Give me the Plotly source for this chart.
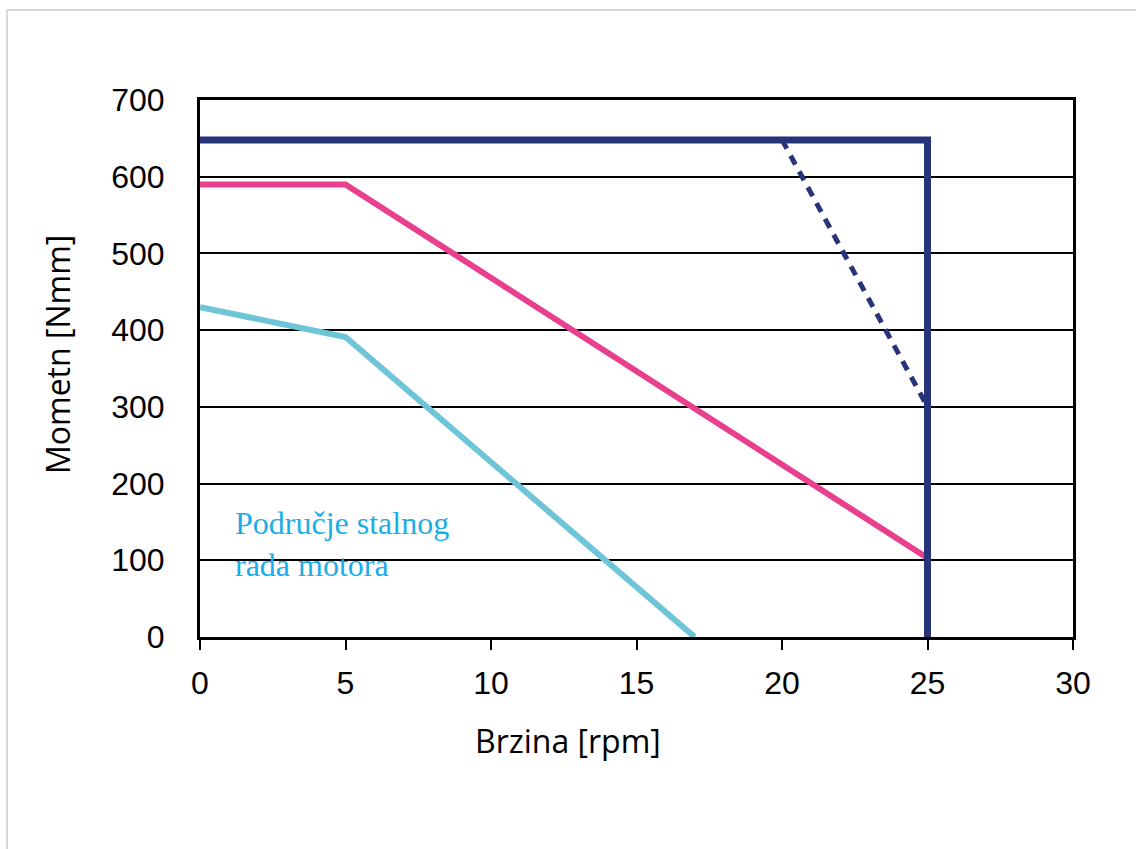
import plotly.graph_objects as go

# brzina [rpm] i moment [Nmm]
granica_x = [0, 25, 25]
granica_y = [648, 648, 0]

isprekidana_x = [20, 25]
isprekidana_y = [648, 300]

roza_x = [0, 5, 25]
roza_y = [590, 590, 103]

plava_x = [0, 5, 17]
plava_y = [430, 391, 0]

x_tickovi = [0, 5, 10, 15, 20, 25, 30]
y_tickovi = [0, 100, 200, 300, 400, 500, 600, 700]

cor_navy = '#27347A'
cor_roza = '#E8408F'
cor_plava = '#6EC5D8'
cor_tekst = '#1AAEE8'

fig = go.Figure()

fig.add_trace(go.Scatter(x=plava_x, y=plava_y, mode='lines',
                         line=dict(color=cor_plava, width=6)))
fig.add_trace(go.Scatter(x=roza_x, y=roza_y, mode='lines',
                         line=dict(color=cor_roza, width=6)))
fig.add_trace(go.Scatter(x=isprekidana_x, y=isprekidana_y, mode='lines',
                         line=dict(color=cor_navy, width=5, dash='10px,8px')))
fig.add_trace(go.Scatter(x=granica_x, y=granica_y, mode='lines',
                         line=dict(color=cor_navy, width=7)))

# plot area: x 200..1073, y 100..637
W, H = 1136, 849
L, R, T, B = 200, 63, 100, 212
pw, ph = W - L - R, H - T - B

def px(x):
    return (x - L) / pw

def py(y):
    return (H - B - y) / ph

fig.update_layout(
    width=W, height=H,
    margin=dict(l=L, r=R, t=T, b=B),
    plot_bgcolor='white',
    paper_bgcolor='white',
    showlegend=False,
    font=dict(family='Liberation Sans, Arial', color='black'),
    xaxis=dict(
        range=[0, 30], tickvals=x_tickovi, showgrid=False, zeroline=False,
        showline=True, linecolor='black', linewidth=3, mirror=True,
        ticks='outside', ticklen=10, tickwidth=2, tickcolor='black',
        tickfont=dict(size=32), ticklabelstandoff=6,
    ),
    yaxis=dict(
        range=[0, 700], tickvals=y_tickovi, showgrid=True, gridcolor='black',
        gridwidth=2, zeroline=False,
        showline=True, linecolor='black', linewidth=3, mirror=True,
        ticks='', tickfont=dict(size=32), ticklabelstandoff=26,
    ),
    shapes=[
        dict(type='line', xref='paper', yref='paper',
             x0=px(6), x1=px(W), y0=py(10), y1=py(10),
             line=dict(color='#D9D9D9', width=2)),
        dict(type='line', xref='paper', yref='paper',
             x0=px(7), x1=px(7), y0=py(10), y1=py(H),
             line=dict(color='#D9D9D9', width=2)),
    ],
    annotations=[
        dict(text='Brzina [rpm]', xref='paper', yref='paper',
             x=px(568), y=py(740), xanchor='center', yanchor='middle',
             showarrow=False,
             font=dict(family='Open Sans', size=32, color='black')),
        dict(text='Mometn [Nmm]', xref='paper', yref='paper',
             x=px(57), y=py(355), xanchor='center', yanchor='middle',
             showarrow=False, textangle=-90,
             font=dict(family='Open Sans', size=32, color='black')),
        dict(text='Područje stalnog<br>rada motora', xref='paper', yref='paper',
             x=px(233), y=py(544), xanchor='left', yanchor='middle',
             align='left', showarrow=False,
             font=dict(family='Liberation Serif', size=32, color=cor_tekst)),
    ],
)

fig.write_html("out.html", config={'displayModeBar': False},
               post_script="document.body.style.margin='0px';")
